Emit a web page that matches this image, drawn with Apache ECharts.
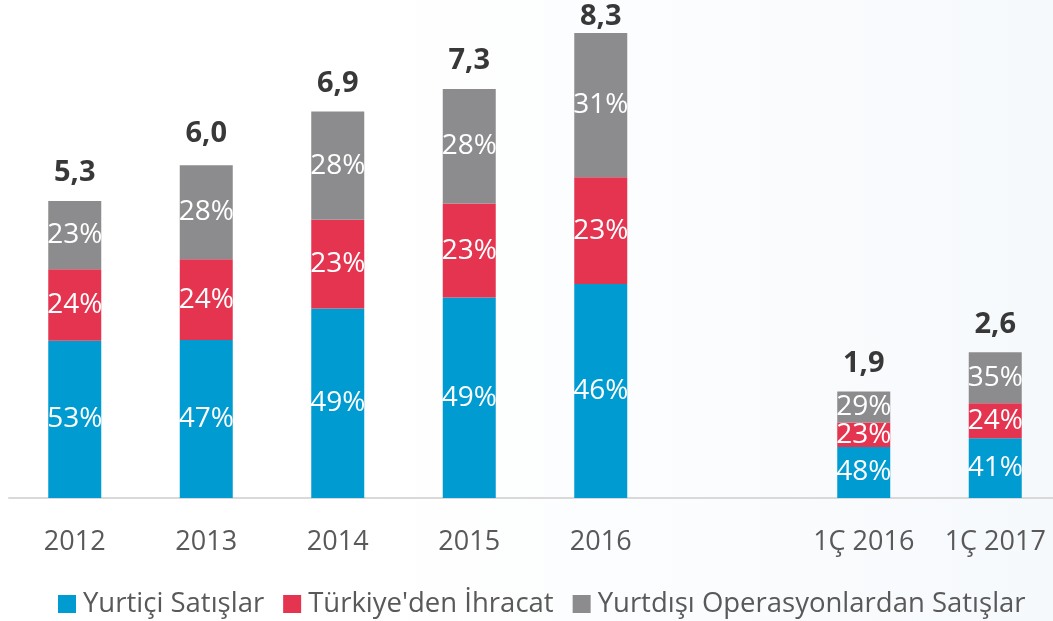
<!DOCTYPE html>
<html>
<head>
<meta charset="utf-8">
<title>Satışlar</title>
<script src="https://cdn.jsdelivr.net/npm/echarts@6/dist/echarts.min.js"></script>
<style>
  html, body { margin: 0; padding: 0; background: #ffffff; }
  #chart { width: 1053px; height: 621px; }
</style>
</head>
<body>
<div id="chart"></div>
<script>
// Period labels (an empty slot separates annual and quarterly figures)
const categories = ['2012', '2013', '2014', '2015', '2016', '', '1Ç 2016', '1Ç 2017'];

// Total sales per period (milyar TL)
const totals = [5.3, 6.0, 6.9, 7.3, 8.3, null, 1.9, 2.6];

// Share of each sales channel in the total (%)
const domesticPct = [53, 47, 49, 49, 46, null, 48, 41];
const exportPct   = [24, 24, 23, 23, 23, null, 23, 24];
const foreignPct  = [23, 28, 28, 28, 31, null, 29, 35];

const seriesNames = ['Yurtiçi Satışlar', "Türkiye'den İhracat", 'Yurtdışı Operasyonlardan Satışlar'];
const colors = ['#009BD0', '#E5344F', '#8C8C8E'];

const FONT = '"Open Sans", "Noto Sans", sans-serif';

// Segment heights: share of the period total
function segment(pcts) {
  return pcts.map((p, i) => (p == null ? null : totals[i] * p / 100));
}

function stackSeries(name, pcts, color) {
  return {
    name: name,
    type: 'bar',
    stack: 'total',
    barWidth: 53,
    itemStyle: { color: color },
    label: {
      show: true,
      position: 'inside',
      color: '#ffffff',
      fontFamily: FONT,
      fontSize: 28,
      formatter: p => pcts[p.dataIndex] + '%'
    },
    data: segment(pcts)
  };
}

const chart = echarts.init(document.getElementById('chart'), null, { renderer: 'canvas' });

chart.setOption({
  backgroundColor: {
    type: 'linear', x: 0, y: 0, x2: 1, y2: 0,
    colorStops: [
      { offset: 0, color: '#ffffff' },
      { offset: 0.35, color: '#ffffff' },
      { offset: 1, color: '#f6f9fc' }
    ]
  },
  animation: false,
  grid: { left: 9, width: 1052, top: 33, bottom: 123, outerBoundsMode: 'none', containLabel: false },
  legend: {
    bottom: -2,
    left: 53,
    itemWidth: 18,
    itemHeight: 18,
    itemGap: 19,
    icon: 'rect',
    textStyle: { color: '#595959', fontFamily: FONT, fontSize: 27.5, padding: [0, 0, 0, 2] },
    data: seriesNames
  },
  xAxis: {
    type: 'category',
    data: categories,
    axisLine: { lineStyle: { color: '#d9d9d9', width: 2 } },
    axisTick: { show: false },
    axisLabel: { color: '#595959', fontFamily: FONT, fontSize: 27, margin: 31, interval: 0 }
  },
  yAxis: {
    type: 'value',
    min: 0,
    max: 'dataMax',
    show: false,
    splitLine: { show: false }
  },
  series: [
    stackSeries(seriesNames[0], domesticPct, colors[0]),
    stackSeries(seriesNames[1], exportPct, colors[1]),
    stackSeries(seriesNames[2], foreignPct, colors[2]),
    {
      name: 'Toplam',
      type: 'line',
      symbol: 'circle',
      symbolSize: 1,
      showSymbol: true,
      itemStyle: { color: 'rgba(0,0,0,0)' },
      lineStyle: { opacity: 0, width: 0 },
      silent: true,
      label: {
        show: true,
        position: 'top',
        distance: 13,
        color: '#383838',
        fontFamily: FONT,
        fontWeight: 'bold',
        fontSize: 29,
        formatter: p => (p.value == null ? '' : p.value.toFixed(1).replace('.', ','))
      },
      // the tallest bar's total sits closer to its bar, at the top edge
      data: totals.map((v, i) => (i === 4 ? { value: v, label: { distance: 1 } } : v))
    }
  ]
});
</script>
</body>
</html>
